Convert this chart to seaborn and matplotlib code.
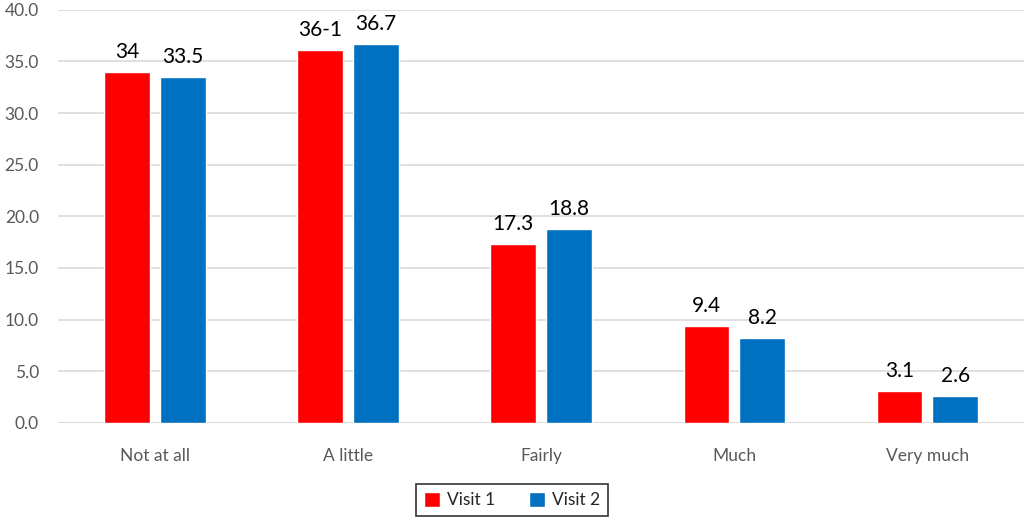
import seaborn as sns
import pandas as pd
import matplotlib.pyplot as plt

categories = ["Not at all", "A little", "Fairly", "Much", "Very much"]
visit1 = [34.0, 36.1, 17.3, 9.4, 3.1]
visit2 = [33.5, 36.7, 18.8, 8.2, 2.6]
labels1 = ["34", "36-1", "17.3", "9.4", "3.1"]
labels2 = ["33.5", "36.7", "18.8", "8.2", "2.6"]
series = ["Visit 1", "Visit 2"]
colors = ["#FF0000", "#0070C0"]

df = pd.DataFrame({
    "category": categories * 2,
    "value": visit1 + visit2,
    "visit": [series[0]] * len(categories) + [series[1]] * len(categories),
})

sns.set_style("white")
plt.rcParams["font.family"] = ["Lato", "DejaVu Sans"]

fig = plt.figure(figsize=(10.24, 5.2), dpi=100)
ax = fig.add_axes([0.057, 0.187, 0.943, 0.794])

sns.barplot(data=df, x="category", y="value", hue="visit", order=categories,
            hue_order=series, palette=colors, width=0.577, gap=0.18,
            saturation=1, ax=ax, legend=True)

for cont, labs in zip(ax.containers, [labels1, labels2]):
    ax.bar_label(cont, labels=labs, padding=7, fontsize=15, color="black")

ax.set_ylim(0, 40)
ax.set_xlim(-0.5, 4.5)
ax.set_yticks(range(0, 41, 5))
ax.set_yticklabels([f"{v:.1f}" for v in range(0, 41, 5)])
ax.yaxis.grid(True, color="#D9D9D9", linewidth=1.2)
ax.set_axisbelow(True)
for s in ax.spines.values():
    s.set_visible(False)
ax.axhline(0, color="#D9D9D9", linewidth=1.2, zorder=0)
ax.tick_params(axis="both", length=0, labelsize=12.5, labelcolor="#595959")
ax.tick_params(axis="x", pad=18)
ax.tick_params(axis="y", pad=14)
ax.set_xlabel("")
ax.set_ylabel("")

ax.legend(loc="center", bbox_to_anchor=(0.5, 0.038), bbox_transform=fig.transFigure,
          ncol=2, frameon=True, fancybox=False, edgecolor="black",
          fontsize=12.5, handlelength=0.9, handleheight=0.9, columnspacing=2.0,
          handletextpad=0.4, borderpad=0.45)
ax.get_legend().get_frame().set_linewidth(1.2)

fig.savefig("out.png", dpi=100)
